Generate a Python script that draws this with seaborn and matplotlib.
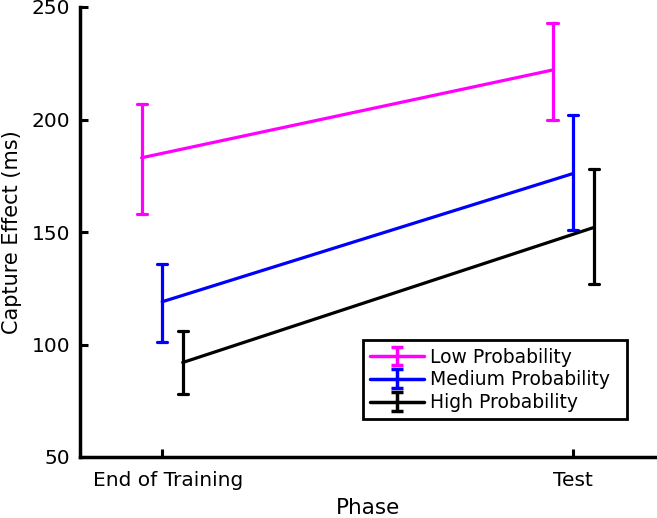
import numpy as np
import pandas as pd
import matplotlib
matplotlib.use("Agg")
import matplotlib.pyplot as plt
import matplotlib.transforms as mtransforms
import seaborn as sns

phases = ["End of Training", "Test"]
groups = ["Low Probability", "Medium Probability", "High Probability"]
colors = ["#FF00FF", "#0000FF", "#000000"]
means = {
    "Low Probability": [183, 222],
    "Medium Probability": [119, 176],
    "High Probability": [92, 152],
}
lower = {
    "Low Probability": [158, 200],
    "Medium Probability": [101, 151],
    "High Probability": [78, 127],
}
upper = {
    "Low Probability": [207, 243],
    "Medium Probability": [136, 202],
    "High Probability": [106, 178],
}
yticks = [50, 100, 150, 200, 250]

rows = []
for g in groups:
    for i, p in enumerate(phases):
        for v in (lower[g][i], means[g][i], upper[g][i]):
            rows.append({"Phase": p, "Group": g, "Value": v})
df = pd.DataFrame(rows)

sns.set_theme(style="ticks")
plt.rcParams["font.family"] = ["DejaVu Sans"]
plt.rcParams["text.color"] = "black"
plt.rcParams["axes.labelcolor"] = "black"
plt.rcParams["xtick.color"] = "black"
plt.rcParams["ytick.color"] = "black"

fig = plt.figure(figsize=(6.57, 5.18), dpi=100)
ax = fig.add_axes([80 / 657, 61 / 518, 577 / 657, 450 / 518])

sns.pointplot(
    data=df, x="Phase", y="Value", hue="Group", hue_order=groups,
    order=phases, palette=colors, estimator="median",
    errorbar=lambda x: (x.min(), x.max()), dodge=0.1, markers="",
    capsize=0.025, linewidth=2.3, err_kws={"linewidth": 2.3},
    legend=False, ax=ax,
)

ax.set_xlim(-0.2, 1.204)
ax.set_ylim(50, 250)
ax.set_yticks(yticks)
ax.set_xlabel("Phase", fontsize=15.5)
ax.set_ylabel("Capture Effect (ms)", fontsize=15)
ax.xaxis.set_label_coords(0.5, -0.092)
ax.yaxis.set_label_coords(-0.1, 0.5)
ax.tick_params(axis="both", direction="in", length=6, width=2.2, labelsize=14.5,
               colors="black", labelcolor="black")
ax.tick_params(axis="x", pad=10)
ax.tick_params(axis="y", pad=7)
for s in ["top", "right"]:
    ax.spines[s].set_visible(False)
for s in ["left", "bottom"]:
    ax.spines[s].set_linewidth(2.5)
    ax.spines[s].set_color("black")

# shift the first x tick label slightly right as in the reference
shift = mtransforms.ScaledTranslation(6 / 100, 0, fig.dpi_scale_trans)
first = ax.get_xticklabels()[0]
first.set_transform(first.get_transform() + shift)

handles = []
for g, c in zip(groups, colors):
    h = ax.errorbar([np.nan], [np.nan], yerr=[1], color=c, lw=2.5, capsize=4.5, capthick=2.5, label=g)
    handles.append(h)
leg = ax.legend(handles=handles, labels=groups, loc="lower left",
                bbox_to_anchor=(0.49, 0.084, 0.458, 0.176), mode="expand",
                fontsize=13.5, frameon=True, fancybox=False, edgecolor="black",
                labelspacing=0.2, handlelength=2.9, handletextpad=0.3,
                borderaxespad=0, borderpad=0.38)
leg.get_frame().set_linewidth(2)
leg.get_frame().set_alpha(1)
for t in leg.get_texts():
    t.set_color("black")

fig.savefig("out.png", dpi=100)
